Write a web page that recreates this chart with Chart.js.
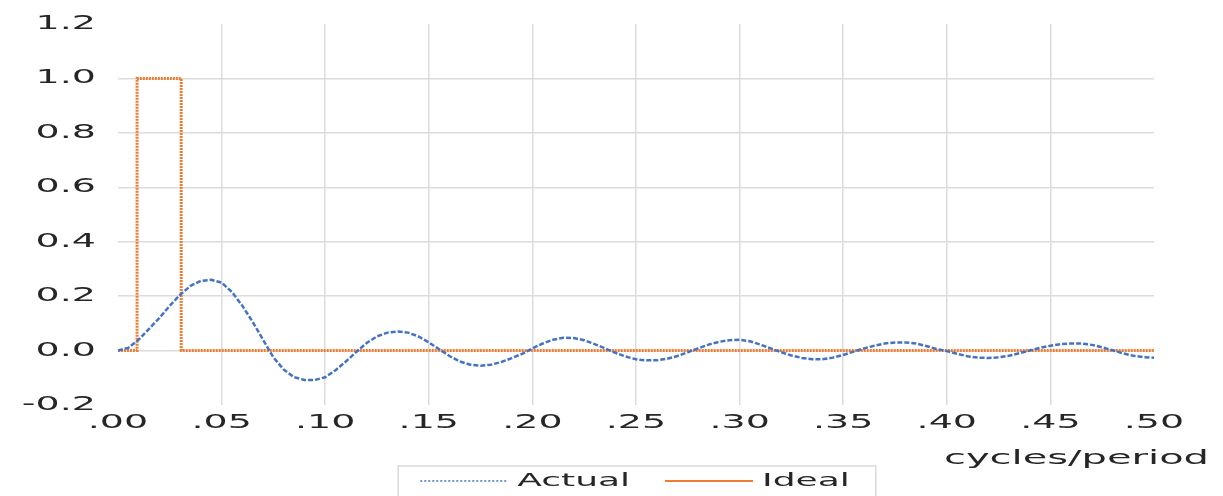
<!DOCTYPE html>
<html>
<head>
<meta charset="utf-8">
<script src="https://cdn.jsdelivr.net/npm/chart.js@4.4.1/dist/chart.umd.min.js"></script>
<style>
  html, body { margin: 0; padding: 0; background: #fff; }
  #wrap { width: 1223px; height: 496px; position: relative; }
</style>
</head>
<body>
<div id="wrap"><canvas id="chart"></canvas></div>
<script>
// Colours
const BLUE = '#4472C4'
const ORANGE = '#ED7D31'
const GRID = '#dcdcdc'
const TEXT = '#262626'
const FONT = "'DejaVu Sans', Verdana, sans-serif"

// Data
const seriesNames = ['Actual', 'Ideal']
const xAxisTitle = 'cycles/period'

const actualFreq = [
  0.000, 0.005, 0.010, 0.015, 0.020, 0.025, 0.030, 0.035, 0.040, 0.045,
  0.050, 0.055, 0.060, 0.065, 0.070, 0.075, 0.080, 0.085, 0.090, 0.095,
  0.100, 0.105, 0.110, 0.115, 0.120, 0.125, 0.130, 0.135, 0.140, 0.145,
  0.150, 0.155, 0.160, 0.165, 0.170, 0.175, 0.180, 0.185, 0.190, 0.195,
  0.200, 0.205, 0.210, 0.215, 0.220, 0.225, 0.230, 0.235, 0.240, 0.245,
  0.250, 0.255, 0.260, 0.265, 0.270, 0.275, 0.280, 0.285, 0.290, 0.295,
  0.300, 0.305, 0.310, 0.315, 0.320, 0.325, 0.330, 0.335, 0.340, 0.345,
  0.350, 0.355, 0.360, 0.365, 0.370, 0.375, 0.380, 0.385, 0.390, 0.395,
  0.400, 0.405, 0.410, 0.415, 0.420, 0.425, 0.430, 0.435, 0.440, 0.445,
  0.450, 0.455, 0.460, 0.465, 0.470, 0.475, 0.480, 0.485, 0.490, 0.495,
  0.500,
]
const actualValues = [
  0.000, 0.010, 0.040, 0.080, 0.120, 0.165, 0.205, 0.238, 0.256, 0.260,
  0.250, 0.215, 0.165, 0.105, 0.040, -0.025, -0.070, -0.098, -0.108, -0.108,
  -0.098, -0.072, -0.040, -0.005, 0.028, 0.052, 0.066, 0.070, 0.066, 0.052,
  0.030, 0.005, -0.020, -0.040, -0.052, -0.056, -0.052, -0.042, -0.028, -0.012,
  0.008, 0.026, 0.040, 0.047, 0.046, 0.038, 0.024, 0.008, -0.008, -0.022,
  -0.032, -0.036, -0.036, -0.030, -0.020, -0.006, 0.008, 0.022, 0.032, 0.038,
  0.040, 0.034, 0.022, 0.008, -0.006, -0.018, -0.027, -0.032, -0.032, -0.026,
  -0.016, -0.004, 0.008, 0.018, 0.026, 0.030, 0.030, 0.026, 0.017, 0.006,
  -0.002, -0.012, -0.021, -0.026, -0.027, -0.025, -0.019, -0.010, 0.000, 0.010,
  0.018, 0.024, 0.026, 0.026, 0.021, 0.012, 0.001, -0.010, -0.019, -0.024,
  -0.026,
]
const idealFreq = [0.000, 0.0092, 0.0092, 0.0305, 0.0305, 0.500]
const idealValues = [0, 0, 1, 1, 0, 0]

const toPoints = (xs, ys) => xs.map((x, i) => ({ x, y: ys[i] }))

// The original export has horizontally stretched lettering; widen every
// text draw (and its measurement, so the layout makes room for it).
const STRETCH = 2.0
const canvas = document.getElementById('chart')
const ctx2d = canvas.getContext('2d')
const baseFill = ctx2d.fillText.bind(ctx2d)
const baseMeasure = ctx2d.measureText.bind(ctx2d)
ctx2d.fillText = function (text, x, y) {
  this.save()
  this.translate(x, y)
  this.scale(STRETCH, 1)
  baseFill(text, 0, 0)
  this.restore()
}
ctx2d.measureText = function (text) {
  const m = baseMeasure(text)
  return { width: m.width * STRETCH }
}

// legend: fixed height, a little right of centre, low in its frame
const LEGEND_HEIGHT = 45
const legendShiftPlugin = {
  id: 'legendShift',
  beforeLayout(chart) {
    const lg = chart.legend
    if (!lg || lg._fixedFit) return
    const fit = lg.fit.bind(lg)
    lg.fit = function () {
      fit()
      this.height = LEGEND_HEIGHT
    }
    lg._fixedFit = true
  },
  afterLayout(chart) {
    const lg = chart.legend
    if (!lg) return
    lg.left += 54
    lg.right += 54
    lg.top = chart.chartArea.bottom + 32
    lg.bottom = chart.height + 20
  },
}

// x-axis title sits out to the right, below the tick labels
const axisTitlePlugin = {
  id: 'axisTitle',
  afterDraw(chart) {
    const ctx = chart.ctx
    ctx.save()
    ctx.font = '20px ' + FONT
    ctx.fillStyle = TEXT
    ctx.textAlign = 'right'
    ctx.textBaseline = 'middle'
    ctx.fillText(xAxisTitle, chart.width - 14, chart.chartArea.bottom + 54)
    ctx.restore()
  },
}

// thin grey frame round the legend
const legendFramePlugin = {
  id: 'legendFrame',
  afterDraw(chart) {
    const lg = chart.legend
    if (!lg || !lg.legendHitBoxes.length) return
    const boxes = lg.legendHitBoxes
    const left = Math.min(...boxes.map((b) => b.left)) - 22
    const right = Math.max(...boxes.map((b) => b.left + b.width)) + 26
    const ctx = chart.ctx
    ctx.save()
    ctx.strokeStyle = '#d9d9d9'
    ctx.lineWidth = 1.5
    ctx.strokeRect(left, chart.chartArea.bottom + 61, right - left, 60)
    ctx.restore()
  },
}

new Chart(canvas, {
  type: 'line',
  data: {
    datasets: [
      {
        label: seriesNames[0],
        data: toPoints(actualFreq, actualValues),
        borderColor: BLUE,
        borderWidth: 2.5,
        borderDash: [5, 2],
        pointRadius: 0,
        tension: 0,
        fill: false,
      },
      {
        label: seriesNames[1],
        data: toPoints(idealFreq, idealValues),
        borderColor: ORANGE,
        borderWidth: 3,
        borderDash: [2, 1],
        pointRadius: 0,
        tension: 0,
        fill: false,
      },
    ],
  },
  options: {
    responsive: true,
    maintainAspectRatio: false,
    animation: false,
    layout: { autoPadding: false, padding: { top: 24, left: 8, right: 69, bottom: 0 } },
    scales: {
      x: {
        type: 'linear',
        min: 0,
        max: 0.5,
        border: { display: false },
        grid: {
          drawTicks: false,
          lineWidth: 1.5,
          color: (c) => (c.tick && (c.tick.value < 0.001 || c.tick.value > 0.499) ? 'transparent' : GRID),
        },
        ticks: {
          stepSize: 0.05,
          padding: 7,
          color: TEXT,
          font: { family: FONT, size: 19 },
          maxRotation: 0,
          callback: (v) => v.toFixed(2).replace(/^0/, ''),
        },
        afterFit: (scale) => {
          scale.height = 46
          scale.paddingLeft = 0
          scale.paddingRight = 0
        },
      },
      y: {
        min: -0.2,
        max: 1.2,
        border: { display: false },
        grid: {
          drawTicks: false,
          lineWidth: 1.5,
          color: (c) => (c.tick && (c.tick.value < -0.19 || c.tick.value > 1.19) ? 'transparent' : GRID),
        },
        ticks: {
          stepSize: 0.2,
          padding: 22,
          color: TEXT,
          font: { family: FONT, size: 19 },
          callback: (v) => (Math.abs(v) < 1e-9 ? '0.0' : v.toFixed(1)),
        },
        afterFit: (scale) => {
          scale.width = 110
          scale.paddingTop = 0
          scale.paddingBottom = 0
        },
      },
    },
    plugins: {
      tooltip: { enabled: false },
      legend: {
        display: true,
        position: 'bottom',
        labels: {
          usePointStyle: true,
          pointStyle: 'line',
          pointStyleWidth: 88,
          padding: 35,
          color: TEXT,
          font: { family: FONT, size: 18 },
          generateLabels(chart) {
            const items = Chart.defaults.plugins.legend.labels.generateLabels(chart)
            items.forEach((it) => {
              const isActual = it.text === seriesNames[0]
              it.lineDash = isActual ? [2, 2] : []
              it.lineWidth = isActual ? 1.5 : 2
            })
            return items
          },
        },
      },
    },
  },
  plugins: [legendShiftPlugin, axisTitlePlugin, legendFramePlugin],
})
</script>
</body>
</html>
